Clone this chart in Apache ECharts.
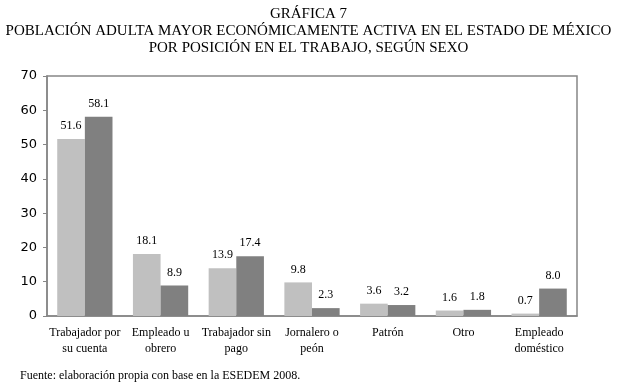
<!DOCTYPE html>
<html><head><meta charset="utf-8">
<script src="https://cdn.jsdelivr.net/npm/echarts@6/dist/echarts.min.js"></script>
<style>html,body{margin:0;padding:0;background:#fff}#c{width:617px;height:385px}</style>
</head><body><div id="c"></div>
<script>
var categories = ['Trabajador por\nsu cuenta','Empleado u\nobrero','Trabajador sin\npago','Jornalero o\npeón','Patrón','Otro','Empleado\ndoméstico'];
var seriesA = [51.6, 18.1, 13.9, 9.8, 3.6, 1.6, 0.7];
var seriesB = [58.1, 8.9, 17.4, 2.3, 3.2, 1.8, 8.0];
var yTicks = [0,10,20,30,40,50,60,70];

var serif = '"Liberation Serif","Times New Roman",serif';
var chart = echarts.init(document.getElementById('c'));
chart.setOption({
  animation:false,
  title:{
    text:'GRÁFICA 7\nPOBLACIÓN ADULTA MAYOR ECONÓMICAMENTE ACTIVA EN EL ESTADO DE MÉXICO\nPOR POSICIÓN EN EL TRABAJO, SEGÚN SEXO',
    left:'center', top:1,
    textStyle:{fontFamily:serif,fontSize:15,fontWeight:'normal',color:'#000',lineHeight:17,align:'center'}
  },
  graphic:[{type:'text',left:20,top:370,style:{text:'Fuente: elaboración propia con base en la ESEDEM 2008.',font:'12px '+serif,fill:'#000'}}],
  grid:{left:47,right:40,top:76,bottom:69,show:true,borderColor:'#868686',borderWidth:1.5},
  xAxis:{type:'category',data:categories,
    axisLine:{lineStyle:{color:'#868686',width:1.5}},axisTick:{show:false},
    axisLabel:{fontFamily:serif,fontSize:12,color:'#000',lineHeight:16,margin:9,interval:0}},
  yAxis:{type:'value',min:0,max:70,interval:10,
    axisLine:{show:true,lineStyle:{color:'#868686',width:1.5}},
    axisTick:{show:true,length:4,lineStyle:{color:'#868686'}},
    splitLine:{show:false},
    axisLabel:{fontFamily:'"DejaVu Sans",Verdana,sans-serif',fontSize:13,color:'#000',margin:10,
      formatter:function(v){return yTicks.indexOf(v)>=0?String(v):'';}}},
  series:[
    {type:'bar',data:seriesA,barGap:'0%',barCategoryGap:'27%',itemStyle:{color:'#c0c0c0'},
     label:{show:true,position:'top',distance:7,fontFamily:serif,fontSize:12,color:'#000',formatter:function(p){return p.value.toFixed(1);}}},
    {type:'bar',data:seriesB,itemStyle:{color:'#808080'},
     label:{show:true,position:'top',distance:7,fontFamily:serif,fontSize:12,color:'#000',formatter:function(p){return p.value.toFixed(1);}}}
  ]
});
</script></body></html>
